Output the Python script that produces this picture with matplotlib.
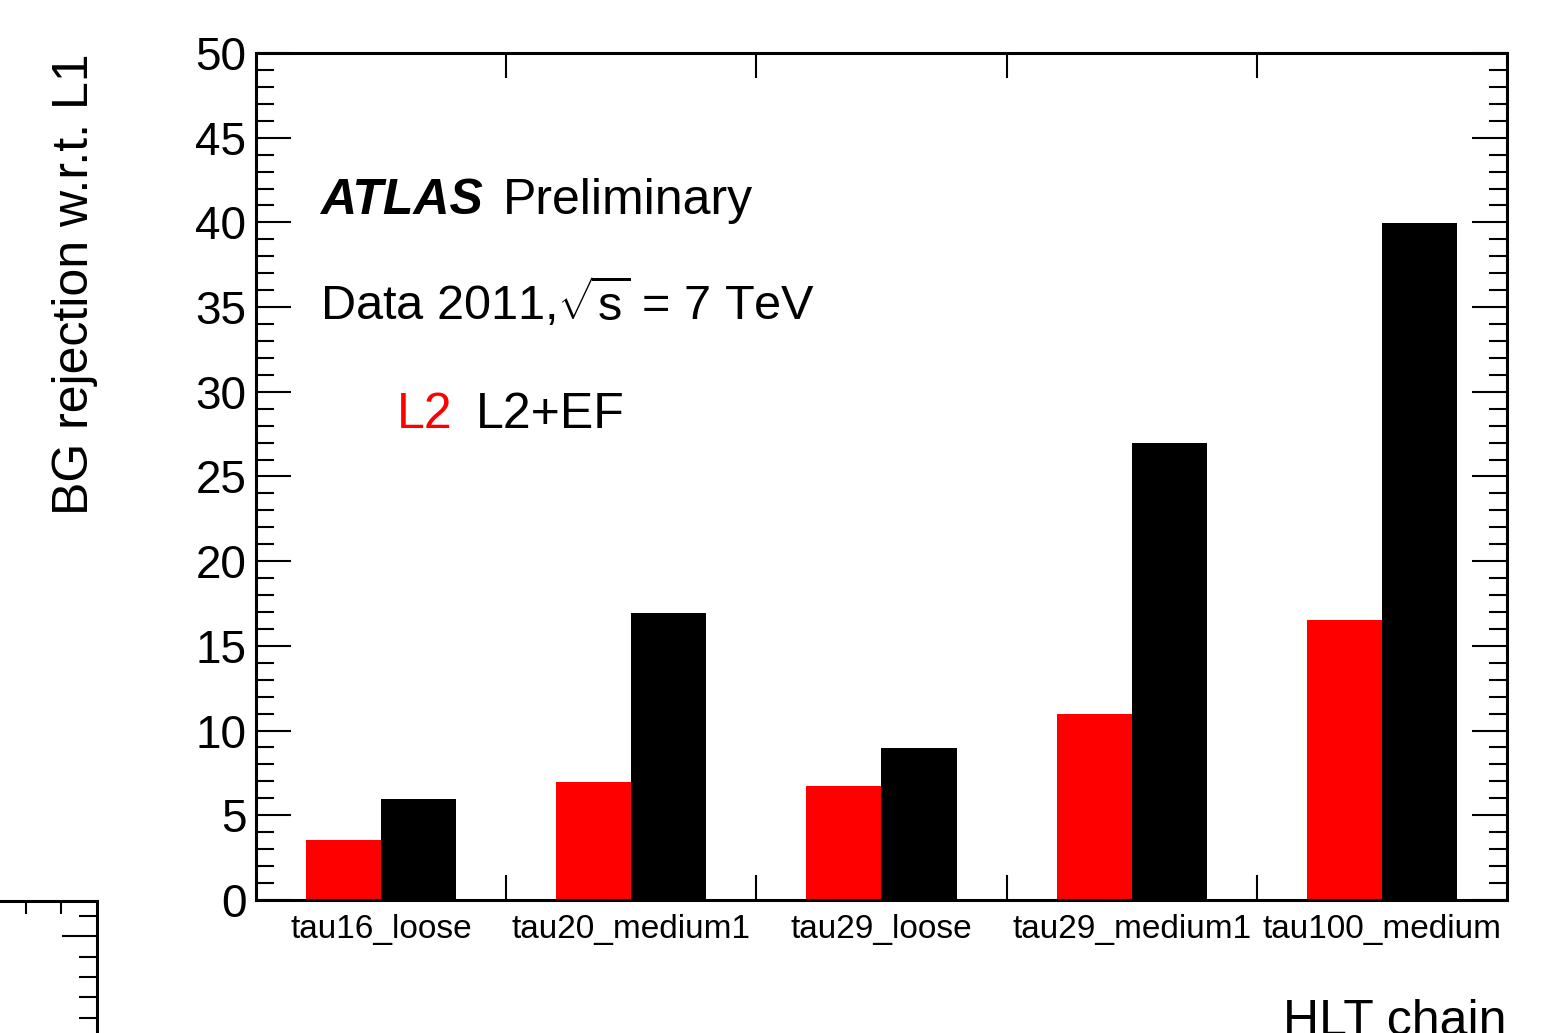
import numpy as np
import matplotlib
matplotlib.use("Agg")
import matplotlib.pyplot as plt
from matplotlib.ticker import MultipleLocator, FixedLocator

plt.rcParams['font.family'] = ['Liberation Sans', 'DejaVu Sans']
plt.rcParams['mathtext.fontset'] = 'custom'
plt.rcParams['mathtext.rm'] = 'Liberation Sans'

# rejection values per trigger chain
chains = ["tau16_loose", "tau20_medium1", "tau29_loose", "tau29_medium1", "tau100_medium"]
rej_l2 = [3.55, 6.97, 6.75, 10.95, 16.5]
rej_l2ef = [5.97, 16.95, 8.97, 26.98, 39.95]

fig = plt.figure(figsize=(15.45, 10.33), dpi=100)
ax = fig.add_axes([0.1657, 0.1288, 0.8097, 0.8199])

x = np.arange(len(chains))
ax.bar(x + 0.2, rej_l2, width=0.3, align='edge', color='#ff0000', linewidth=0)
ax.bar(x + 0.5, rej_l2ef, width=0.3, align='edge', color='black', linewidth=0)

ax.set_xlim(0, len(chains))
ax.set_ylim(0, 50)

for s in ax.spines.values():
    s.set_linewidth(2.2)

# y ticks on both sides, inward
ax.yaxis.set_major_locator(MultipleLocator(5))
ax.yaxis.set_minor_locator(MultipleLocator(1))
ax.tick_params(axis='y', which='major', direction='in', length=25, width=1.5,
               left=True, right=True, labelsize=33, pad=7)
ax.tick_params(axis='y', which='minor', direction='in', length=13, width=1.5,
               left=True, right=True)

# x ticks at bin edges, labels at bin centres
ax.xaxis.set_major_locator(FixedLocator(np.arange(1, len(chains))))
ax.xaxis.set_minor_locator(FixedLocator(x + 0.5))
ax.set_xticklabels([])
ax.set_xticklabels(chains, minor=True)
ax.tick_params(axis='x', which='major', direction='in', length=18, width=1.5,
               top=True, bottom=True)
ax.tick_params(axis='x', which='minor', length=0, labelsize=24, pad=10)

ax.set_ylabel("BG rejection w.r.t. L1", fontsize=36)
ax.yaxis.set_label_coords(-0.126, 1.0)
ax.yaxis.label.set_horizontalalignment('right')

ax.set_xlabel("HLT chain", fontsize=36)
ax.xaxis.set_label_coords(1.0, -0.117)
ax.xaxis.label.set_horizontalalignment('right')
ax.xaxis.label.set_verticalalignment('top')

ax.text(0.051, 0.810, "ATLAS", transform=ax.transAxes, fontsize=36,
        fontweight='bold', fontstyle='italic', va='baseline')
ax.text(0.197, 0.810, "Preliminary", transform=ax.transAxes, fontsize=36,
        va='baseline')
ax.text(0.051, 0.685, r"Data 2011,$\sqrt{\mathrm{s}}$ = 7 TeV",
        transform=ax.transAxes, fontsize=35, va='baseline')
ax.text(0.113, 0.557, "L2", transform=ax.transAxes, fontsize=36,
        color='#ff0000', va='baseline')
ax.text(0.176, 0.557, "L2+EF", transform=ax.transAxes, fontsize=36,
        va='baseline')

# corner of the neighbouring pad
ax2 = fig.add_axes([-0.4, -0.3, 0.4628, 0.4278])
ax2.set_xlim(0, 1)
ax2.set_ylim(0, 1)
for s in ax2.spines.values():
    s.set_linewidth(2.2)
ax2.xaxis.set_major_locator(FixedLocator([0.9, 0.95]))
ax2.yaxis.set_major_locator(FixedLocator([0.23, 0.46, 0.69, 0.92]))
ax2.yaxis.set_minor_locator(FixedLocator([0.736, 0.782, 0.828, 0.874, 0.966]))
ax2.tick_params(axis='x', which='major', direction='in', length=9, width=1.5,
                top=True, bottom=False, labelbottom=False)
ax2.tick_params(axis='y', which='major', direction='in', length=25, width=1.5,
                right=True, left=False, labelleft=False)
ax2.tick_params(axis='y', which='minor', direction='in', length=13, width=1.5,
                right=True, left=False)

fig.savefig("out.png", dpi=100)
